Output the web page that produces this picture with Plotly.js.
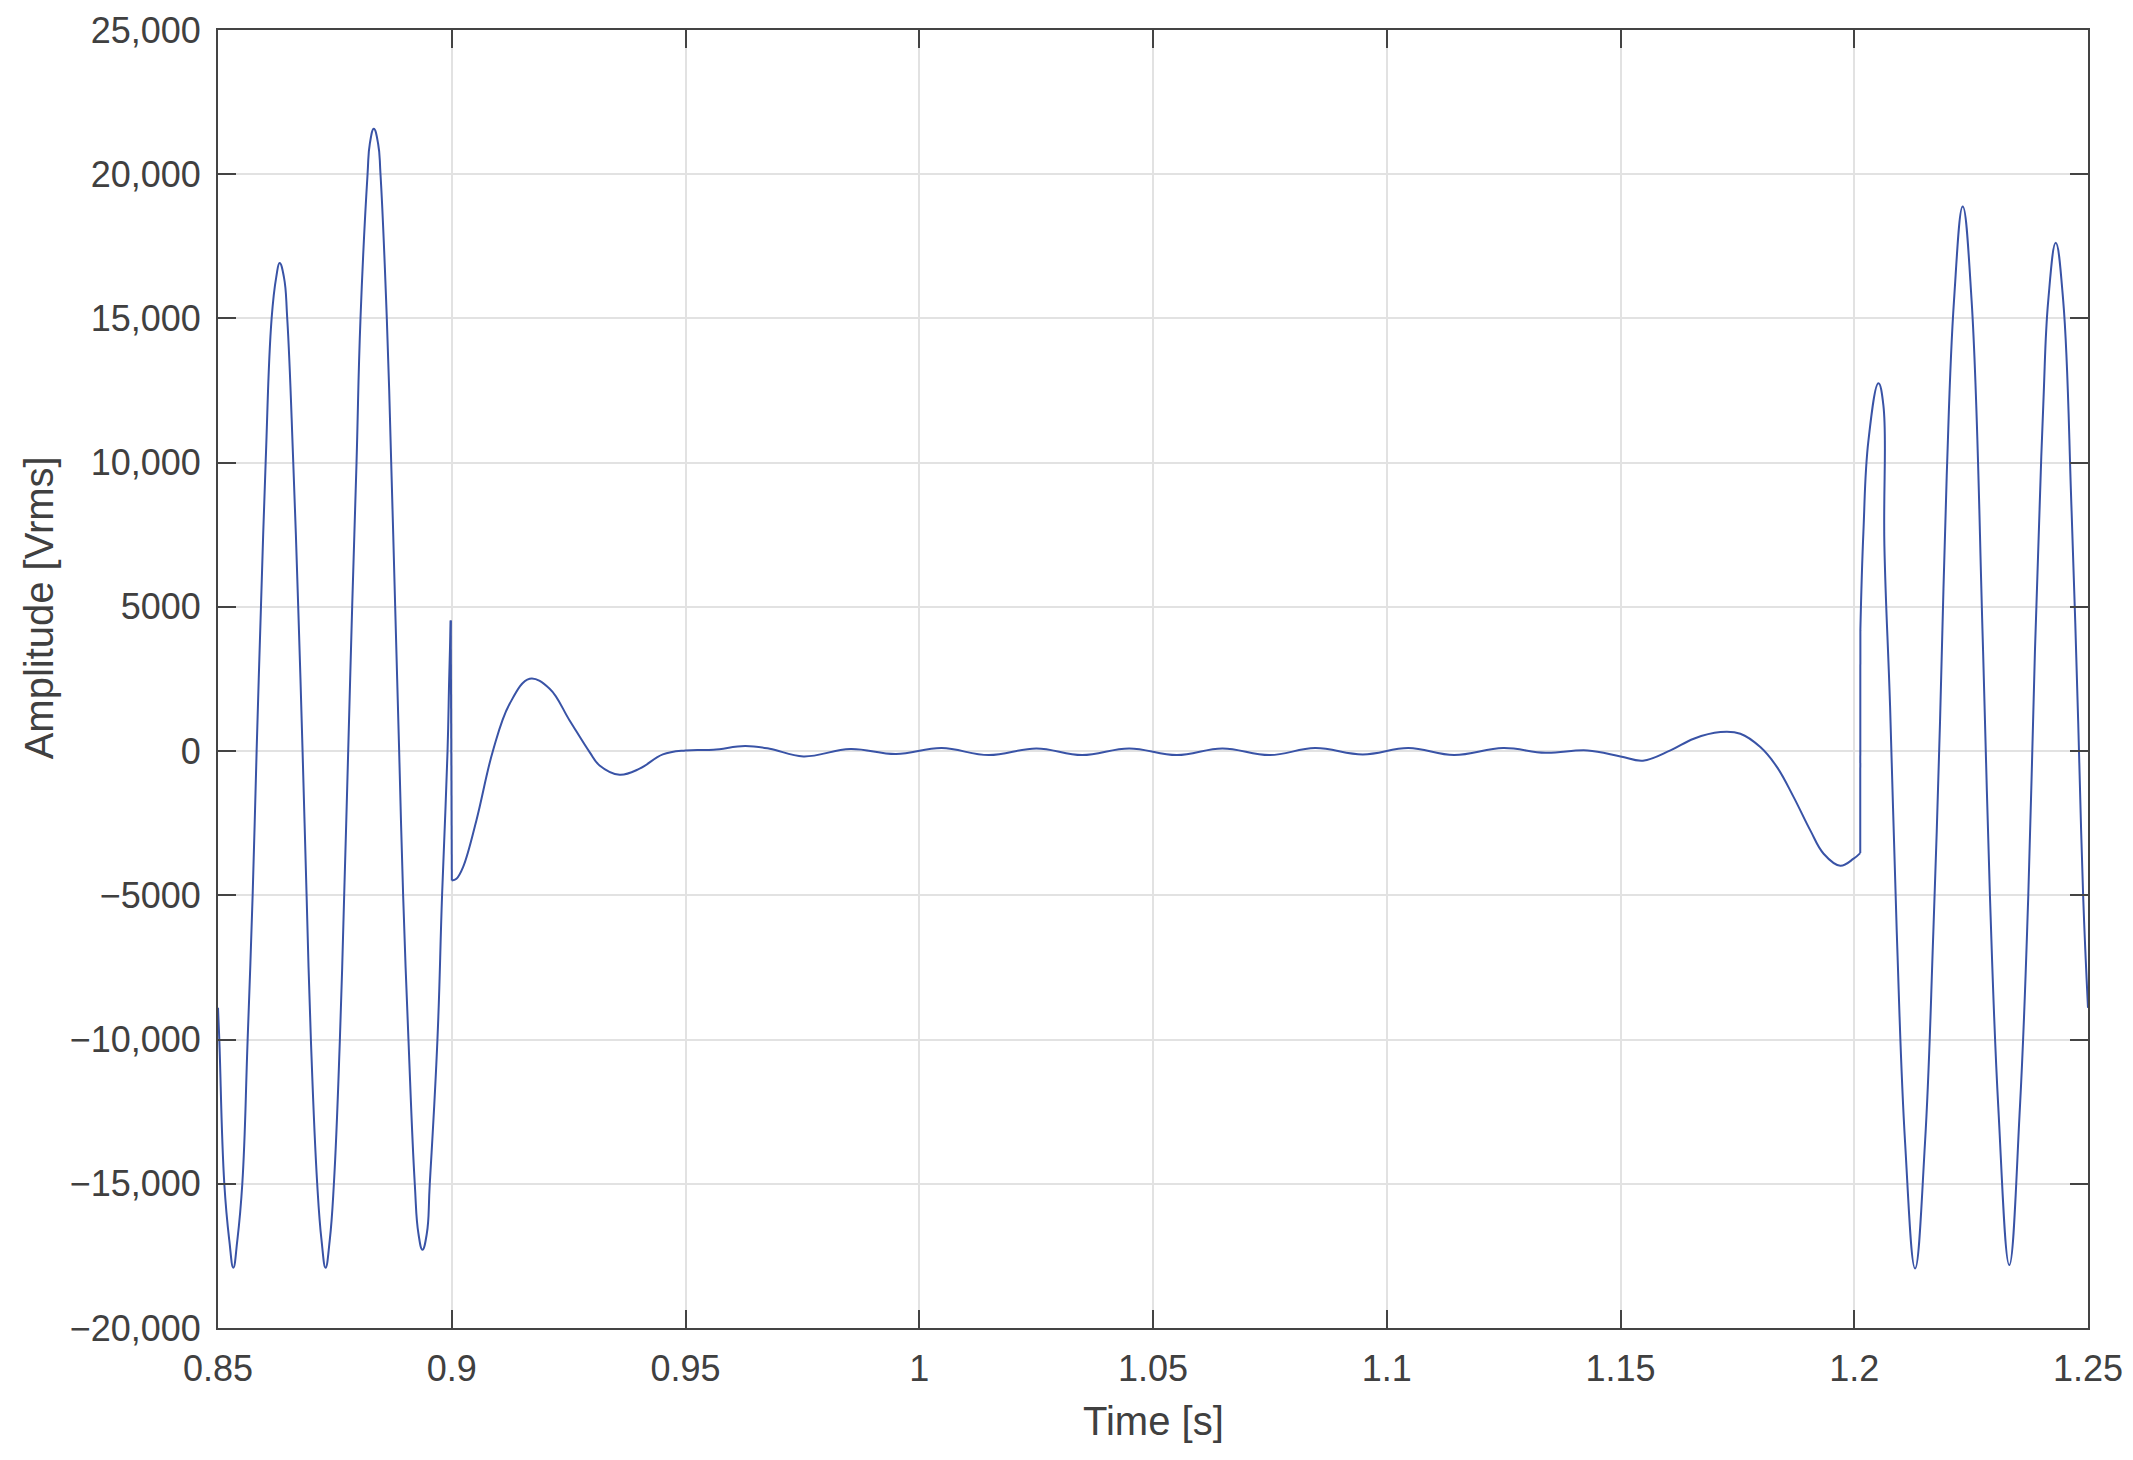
<!DOCTYPE html>
<html>
<head>
<meta charset="utf-8">
<script src="https://cdn.plot.ly/plotly-3.0.1.min.js"></script>
<style>html,body{margin:0;padding:0;background:#fff;}#chart{width:2133px;height:1460px;}</style>
</head>
<body>
<div id="chart"></div>
<script>
// Segment 1: before the event (0.85 s to ~0.9 s)
const timeSeg1 = [0.85000, 0.85028, 0.85135, 0.85242, 0.85328, 0.85413, 0.85520, 0.85634, 0.85741, 0.85826, 0.85919, 0.86019, 0.86147, 0.86246, 0.86318, 0.86410, 0.86481, 0.86610, 0.86716, 0.86809, 0.86895, 0.86987, 0.87122, 0.87215, 0.87301, 0.87390, 0.87479, 0.87607, 0.87699, 0.87785, 0.87870, 0.87963, 0.88048, 0.88199, 0.88248, 0.88333, 0.88425, 0.88476, 0.88611, 0.88705, 0.88790, 0.88875, 0.88960, 0.89074, 0.89209, 0.89288, 0.89373, 0.89466, 0.89530, 0.89694, 0.89793, 0.89910, 0.89945, 0.89978];
const ampSeg1 = [-8900, -10000, -15000, -16964, -17911, -16964, -15000, -10000, -5000, 0, 5000, 10000, 15000, 16434, 16919, 16434, 15000, 10000, 5000, 0, -5000, -10000, -15000, -16964, -17911, -16964, -15000, -10000, -5000, 0, 5000, 10000, 15000, 20000, 21058, 21578, 21058, 20000, 15000, 10000, 5000, 0, -5000, -10000, -15000, -16733, -17287, -16733, -15000, -10000, -5000, 0, 2500, 4531];

// Segment 2: damped interval (~0.9 s to ~1.2 s)
const timeSeg2 = [0.90002, 0.90100, 0.90242, 0.90527, 0.90883, 0.91239, 0.91667, 0.92094, 0.92521, 0.92949, 0.93162, 0.93590, 0.94017, 0.94515, 0.95000, 0.95599, 0.96276, 0.96802, 0.97521, 0.98527, 0.99503, 1.00479, 1.01485, 1.02506, 1.03482, 1.04489, 1.05510, 1.06485, 1.07491, 1.08468, 1.09489, 1.10465, 1.11441, 1.12491, 1.13393, 1.14294, 1.15000, 1.15480, 1.16068, 1.16567, 1.17137, 1.17564, 1.17991, 1.18348, 1.18704, 1.19060, 1.19345, 1.19701, 1.19986, 1.20128];
const ampSeg2 = [-4483, -4425, -4021, -2403, 24, 1643, 2510, 2163, 1064, -35, -496, -818, -610, -114, 24, 48, 173, 81, -184, 70, -104, 104, -139, 92, -139, 92, -139, 92, -139, 104, -116, 104, -139, 104, -58, 23, -184, -330, 24, 430, 659, 603, 139, -555, -1595, -2749, -3557, -3973, -3730, -3536];

// Segment 3: after reclosing (~1.2 s to 1.25 s)
const timeSeg3 = [1.20131, 1.20196, 1.20303, 1.20517, 1.20624, 1.20645, 1.20767, 1.20909, 1.21087, 1.21301, 1.21514, 1.21692, 1.21835, 1.21978, 1.22134, 1.22320, 1.22510, 1.22756, 1.22903, 1.23081, 1.23316, 1.23544, 1.23722, 1.23865, 1.24043, 1.24150, 1.24310, 1.24469, 1.24649, 1.24790, 1.24897, 1.25000];
const ampSeg3 = [4195, 7600, 10762, 12755, 11978, 7114, 1519, -6265, -13559, -17935, -13559, -6265, 1033, 9545, 15626, 18880, 15626, 3463, -5048, -12342, -17817, -12342, -5048, 3463, 11978, 15626, 17620, 15626, 8327, 1033, -5048, -8900];

const xTickVals = [0.85, 0.9, 0.95, 1, 1.05, 1.1, 1.15, 1.2, 1.25];
const xTickText = ["0.85", "0.9", "0.95", "1", "1.05", "1.1", "1.15", "1.2", "1.25"];
const yTickVals = [25000, 20000, 15000, 10000, 5000, 0, -5000, -10000, -15000, -20000];
const yTickText = ["25,000", "20,000", "15,000", "10,000", "5000", "0", "\u22125000", "\u221210,000", "\u221215,000", "\u221220,000"];

const lineColor = '#3953a6';
const fontFam = '"Liberation Sans", Arial, Helvetica, sans-serif';

function seg(x, y, shape, smooth) {
  const line = {color: lineColor, width: 2, shape: shape};
  if (shape === 'spline') line.smoothing = smooth;
  return {x: x, y: y, type: 'scatter', mode: 'lines', showlegend: false, hoverinfo: 'x+y', line: line};
}

const traces = [
  seg(timeSeg1, ampSeg1, 'spline', 1.3),
  seg([timeSeg1[timeSeg1.length-1], timeSeg2[0]], [ampSeg1[ampSeg1.length-1], ampSeg2[0]], 'linear'),
  seg(timeSeg2, ampSeg2, 'spline', 1.1),
  seg([timeSeg2[timeSeg2.length-1], timeSeg3[0]], [ampSeg2[ampSeg2.length-1], ampSeg3[0]], 'linear'),
  seg(timeSeg3, ampSeg3, 'spline', 1.2)
];

const axisCommon = {
  showgrid: true, gridcolor: '#e2e2e2', gridwidth: 2,
  showline: true, linecolor: '#444444', linewidth: 2, mirror: 'allticks',
  ticks: 'inside', ticklen: 18, tickwidth: 2, tickcolor: '#444444',
  zeroline: false, tickmode: 'array',
  tickfont: {family: fontFam, size: 36, color: '#404040'}
};

const layout = {
  width: 2133, height: 1460,
  margin: {l: 218, r: 45, t: 30, b: 132, pad: 0},
  paper_bgcolor: '#ffffff', plot_bgcolor: '#ffffff',
  xaxis: Object.assign({}, axisCommon, {range: [0.85, 1.25], tickvals: xTickVals, ticktext: xTickText, ticklabelstandoff: 8}),
  yaxis: Object.assign({}, axisCommon, {range: [-20000, 25000], tickvals: yTickVals, ticktext: yTickText, ticklabelstandoff: 8}),
  annotations: [
    {text: 'Time [s]', xref: 'paper', yref: 'paper', x: 0.5, y: -0.072, xanchor: 'center', yanchor: 'middle',
     showarrow: false, font: {family: fontFam, size: 40, color: '#404040'}},
    {text: 'Amplitude [Vrms]', xref: 'paper', yref: 'y', x: -0.0957, y: 4950, xanchor: 'center', yanchor: 'middle',
     textangle: -90, showarrow: false, font: {family: fontFam, size: 40, color: '#404040'}}
  ]
};

Plotly.newPlot('chart', traces, layout, {displayModeBar: false, staticPlot: true});
</script>
</body>
</html>
